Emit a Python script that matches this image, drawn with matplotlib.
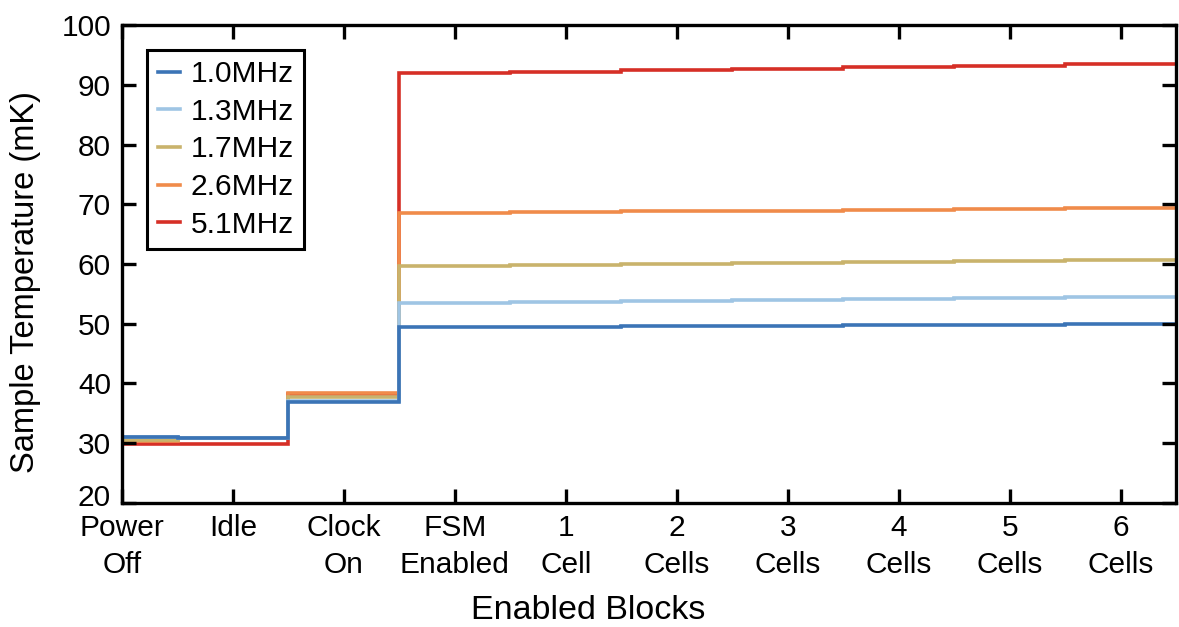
import numpy as np
import matplotlib.pyplot as plt
import matplotlib.transforms as mtransforms

plt.rcParams['font.family'] = ['Liberation Sans', 'DejaVu Sans']

categories = ['Power\nOff', 'Idle', 'Clock\nOn', 'FSM\nEnabled', '1\nCell',
              '2\nCells', '3\nCells', '4\nCells', '5\nCells', '6\nCells']
labels = ['1.0MHz', '1.3MHz', '1.7MHz', '2.6MHz', '5.1MHz']
temp_1_0 = [31.0, 30.8, 36.9, 49.4, 49.5, 49.6, 49.65, 49.7, 49.75, 49.9]
temp_1_3 = [31.0, 30.8, 37.0, 53.4, 53.7, 53.85, 54.0, 54.1, 54.25, 54.4]
temp_1_7 = [30.5, 30.8, 37.8, 59.65, 59.8, 60.0, 60.1, 60.3, 60.5, 60.65]
temp_2_6 = [30.4, 30.8, 38.4, 68.5, 68.65, 68.8, 68.9, 69.05, 69.2, 69.35]
temp_5_1 = [29.9, 29.9, 38.3, 91.9, 92.2, 92.45, 92.65, 93.0, 93.2, 93.4]
colors = ['#3b74b6', '#9fc5e4', '#c9b36c', '#f08b4a', '#d62f26']

series = [temp_1_0, temp_1_3, temp_1_7, temp_2_6, temp_5_1]
x = np.arange(len(categories))
edges = np.append(x - 0.5, x[-1] + 0.5)

fig = plt.figure(figsize=(11.79, 6.27), dpi=100)
ax = fig.add_axes([0.1035, 0.198, 0.894, 0.762])

handles = []
for vals, lab, col in reversed(list(zip(series, labels, colors))):
    h = ax.stairs(vals, edges, baseline=None, color=col, linewidth=2.6, label=lab)
    handles.append(h)
handles = handles[::-1]

ax.set_xlim(0, 9.5)
ax.set_ylim(20, 100)
ax.set_yticks(np.arange(20, 101, 10))
ax.set_xticks(x)
ax.set_xticklabels(categories, linespacing=1.4)
ax.tick_params(direction='in', length=10, width=2.4, labelsize=21.5,
               top=True, right=True, pad=8)
for s in ax.spines.values():
    s.set_linewidth(2.4)

# the bottom y label sits a little higher in the original
lab20 = ax.get_yticklabels()[0]
lab20.set_transform(lab20.get_transform() +
                    mtransforms.ScaledTranslation(0, 6 / 72, fig.dpi_scale_trans))

ax.set_ylabel('Sample Temperature (mK)', fontsize=23.5)
ax.set_xlabel('Enabled Blocks', fontsize=24.5)
ax.yaxis.set_label_coords(-0.077, 0.462)
ax.xaxis.set_label_coords(0.442, -0.193)

leg = ax.legend(handles, labels, loc='upper left', bbox_to_anchor=(0.024, 0.948),
                fontsize=21.5, handlelength=0.75, handletextpad=0.35, fancybox=False,
                borderpad=0.35, labelspacing=0.32, framealpha=1,
                borderaxespad=0.0)
leg.get_frame().set_edgecolor('black')
leg.get_frame().set_linewidth(2.2)

fig.savefig('out.png', dpi=100)
